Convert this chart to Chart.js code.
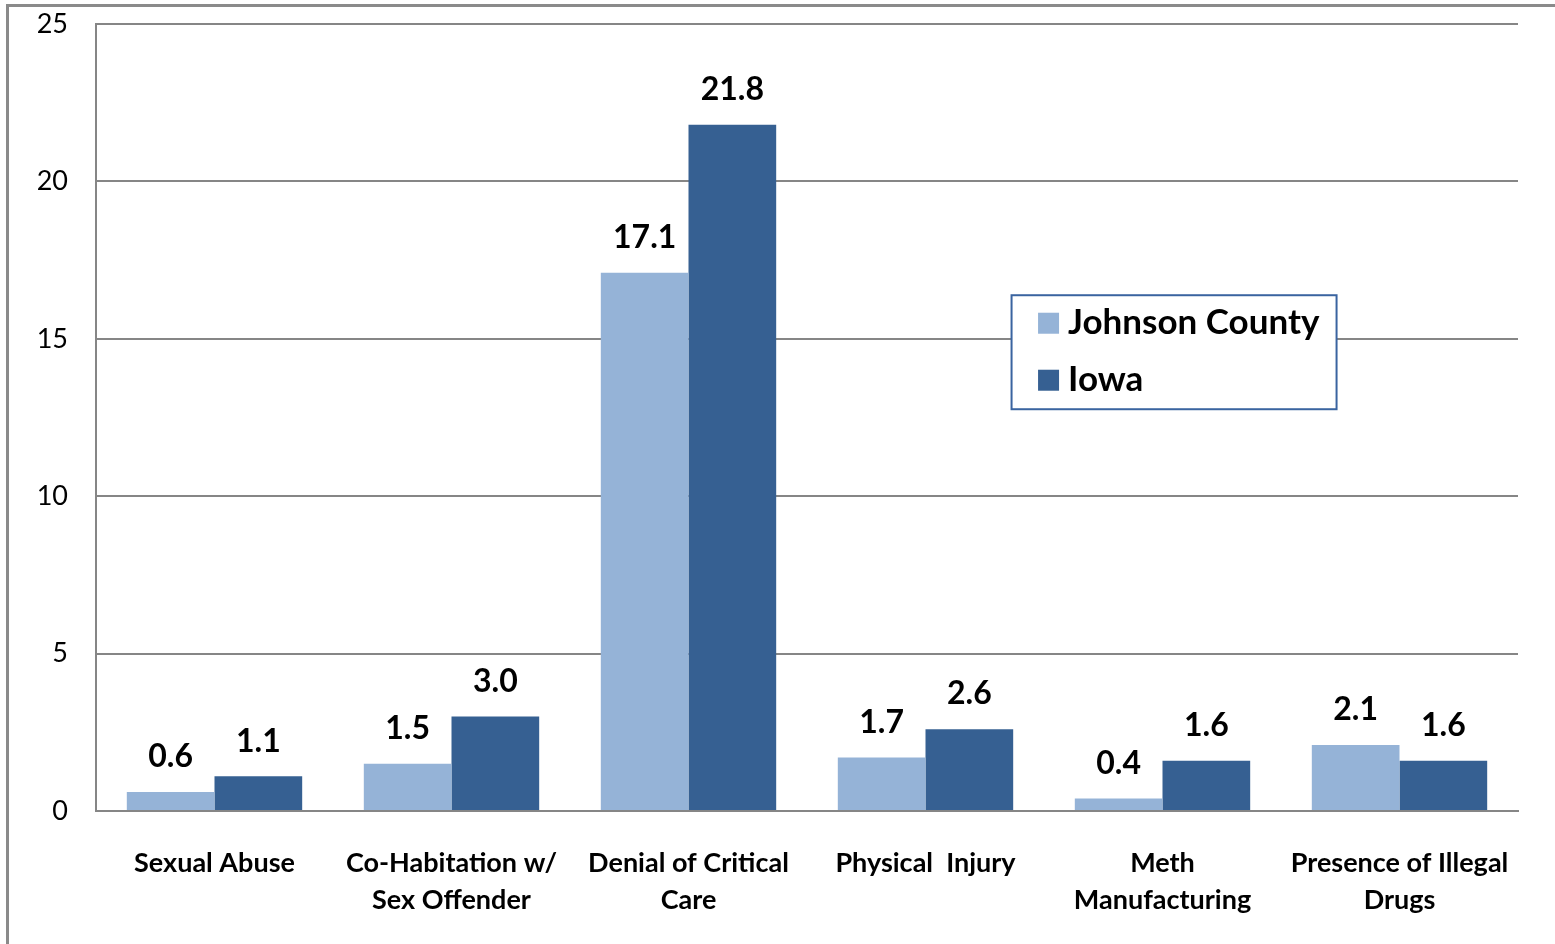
<!DOCTYPE html>
<html>
<head>
<meta charset="utf-8">
<script src="https://cdn.jsdelivr.net/npm/chart.js@4.4.0/dist/chart.umd.min.js"></script>
<style>
  body { margin: 0; background: #fff; }
  #wrap { width: 1555px; height: 944px; }
</style>
</head>
<body>
<div id="wrap"><canvas id="abuseChart" width="1555" height="944"></canvas></div>
<script>
// datos del grafico
const categorias = [
  'Sexual Abuse',
  ['Co-Habitation w/', 'Sex Offender'],
  ['Denial of Critical', 'Care'],
  'Physical  Injury',
  ['Meth', 'Manufacturing'],
  ['Presence of Illegal', 'Drugs']
];
const johnsonCounty = [0.6, 1.5, 17.1, 1.7, 0.4, 2.1];
const iowa = [1.1, 3.0, 21.8, 2.6, 1.6, 1.6];
const yTicks = [0, 5, 10, 15, 20, 25];

const FONT = 'Lato, "Open Sans", sans-serif';

// marco exterior gris
const marcoPlugin = {
  id: 'marco',
  beforeDraw(chart) {
    const c = chart.ctx;
    c.save();
    c.strokeStyle = '#8a8a8a';
    c.lineWidth = 3;
    c.strokeRect(7.5, 5.5, 1700, 1100);
    c.restore();
  }
};

// etiquetas de valor encima de cada barra
const valoresPlugin = {
  id: 'valores',
  afterDatasetsDraw(chart) {
    const c = chart.ctx;
    c.save();
    c.font = 'bold 32px ' + FONT;
    c.fillStyle = '#000';
    c.textAlign = 'center';
    c.textBaseline = 'middle';
    chart.data.datasets.forEach((ds, i) => {
      chart.getDatasetMeta(i).data.forEach((bar, j) => {
        c.fillText(ds.data[j].toFixed(1), bar.x, bar.y - 35);
      });
    });
    c.restore();
  }
};

// leyenda con recuadro dentro del area del grafico
const leyendaPlugin = {
  id: 'leyenda',
  afterDraw(chart) {
    const c = chart.ctx;
    const a = chart.chartArea;
    const x = a.left + (a.right - a.left) * 0.6435;
    const y = chart.scales.y.getPixelForValue(16.4);
    const w = 325, h = 114;
    c.save();
    c.fillStyle = '#fff';
    c.fillRect(x, y, w, h);
    c.strokeStyle = '#3a64a0';
    c.lineWidth = 2;
    c.strokeRect(x + 0.5, y + 0.5, w, h);
    c.font = 'bold 35px ' + FONT;
    c.textBaseline = 'middle';
    chart.data.datasets.forEach((ds, i) => {
      const cy = y + 28 + i * 57;
      c.fillStyle = ds.backgroundColor;
      c.fillRect(x + 27, cy - 10, 21, 21);
      c.fillStyle = '#000';
      c.fillText(ds.label, x + 57, cy);
    });
    c.restore();
  }
};

const ctx = document.getElementById('abuseChart').getContext('2d');
new Chart(ctx, {
  type: 'bar',
  data: {
    labels: categorias,
    datasets: [
      { label: 'Johnson County', data: johnsonCounty, backgroundColor: '#95b3d7' },
      { label: 'Iowa', data: iowa, backgroundColor: '#366092' }
    ]
  },
  options: {
    responsive: false,
    animation: false,
    layout: { padding: { top: 24, right: 37, left: 0, bottom: 0 } },
    datasets: { bar: { categoryPercentage: 0.74, barPercentage: 1.0 } },
    plugins: { legend: { display: false }, tooltip: { enabled: false } },
    scales: {
      x: {
        grid: { display: false },
        border: { display: true, color: '#868686', width: 2 },
        ticks: {
          color: '#000',
          font: { family: FONT, size: 27, weight: 'bold', lineHeight: 1.4 },
          padding: 25,
          maxRotation: 0,
          autoSkip: false
        },
        afterFit(scale) {
          scale.height = 133;
          scale.paddingLeft = 0;
          scale.paddingRight = 0;
        }
      },
      y: {
        min: 0,
        max: 25,
        afterBuildTicks(scale) { scale.ticks = yTicks.map(v => ({ value: v })); },
        grid: { color: '#868686', lineWidth: 2, drawTicks: false },
        border: { display: true, color: '#868686', width: 2 },
        ticks: {
          color: '#000',
          font: { family: FONT, size: 27 },
          padding: 28
        },
        afterFit(scale) {
          scale.width = 96;
          scale.paddingTop = 0;
          scale.paddingBottom = 0;
        }
      }
    }
  },
  plugins: [marcoPlugin, valoresPlugin, leyendaPlugin]
});
</script>
</body>
</html>
